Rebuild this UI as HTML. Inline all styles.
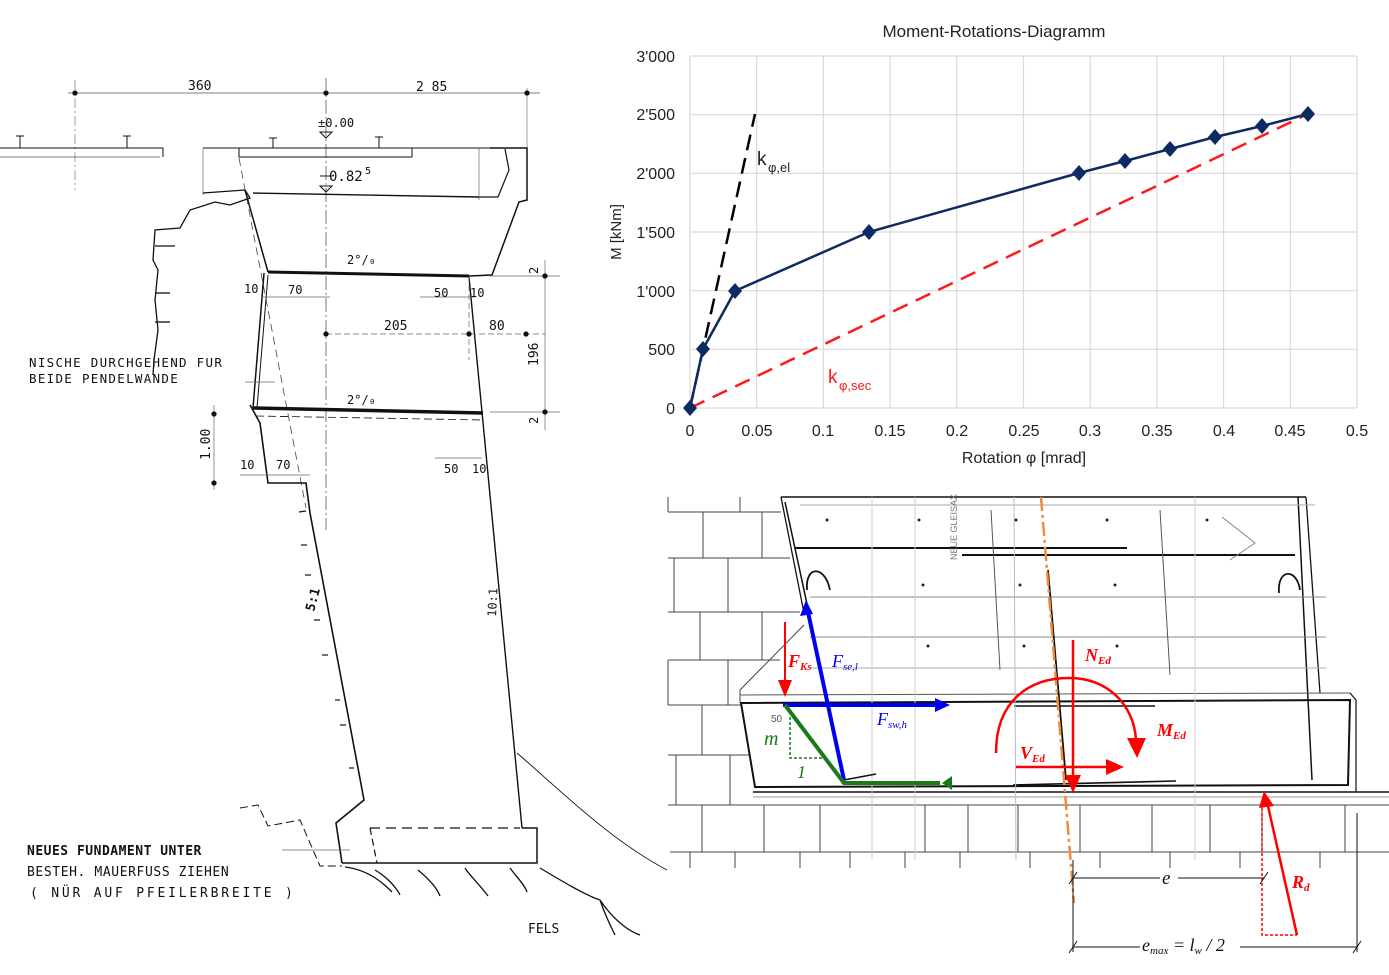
<!DOCTYPE html>
<html><head><meta charset="utf-8"><style>
html,body{margin:0;padding:0;background:#fff;}
svg{display:block;}
.cad{font-family:"DejaVu Sans Mono","Liberation Mono",monospace;fill:#111;}
.ch{font-family:"Liberation Sans",Arial,sans-serif;fill:#222;}
.it{font-family:"Liberation Serif",serif;font-style:italic;}
</style></head><body>
<svg width="1389" height="975" viewBox="0 0 1389 975" xmlns="http://www.w3.org/2000/svg">
<!-- ============ LEFT CAD DRAWING ============ -->
<g stroke="#111" fill="none" stroke-width="1.3">
 <!-- dimension line -->
 <line x1="68" y1="93" x2="540" y2="93" stroke-width="0.8" stroke="#555"/>
 <line x1="75" y1="80" x2="75" y2="190" stroke-width="0.7" stroke="#777" stroke-dasharray="10,3,2,3"/>
 <line x1="527" y1="88" x2="527" y2="150" stroke-width="0.7" stroke="#777"/>
 <circle cx="75" cy="93" r="2" fill="#111"/><circle cx="326" cy="93" r="2" fill="#111"/><circle cx="527" cy="93" r="2" fill="#111"/>
 <!-- centre axis -->
 <line x1="326" y1="78" x2="326" y2="530" stroke-width="0.8" stroke="#555" stroke-dasharray="14,3,2,3"/>
 <!-- ground lines -->
 <polyline points="0,148 163,148 163,157" stroke-width="1"/>
 <line x1="0" y1="157" x2="160" y2="157" stroke-width="0.7" stroke="#555"/>
 <polyline points="203,148 239,148 239,157 412,157 412,148 527,148" stroke-width="1"/>
 <line x1="239" y1="148" x2="490" y2="148" stroke-width="1"/>
 <g stroke-width="1"><line x1="20" y1="136" x2="20" y2="148"/><line x1="16" y1="136" x2="24" y2="136"/>
 <line x1="127" y1="136" x2="127" y2="148"/><line x1="123" y1="136" x2="131" y2="136"/>
 <line x1="273" y1="138" x2="273" y2="148"/><line x1="269" y1="138" x2="277" y2="138"/>
 <line x1="379" y1="137" x2="379" y2="148"/><line x1="375" y1="137" x2="383" y2="137"/></g>
 <!-- level marks -->
 <polygon points="320,132 332,132 326,138" stroke-width="1"/>
 <polygon points="320,186 332,186 326,192" stroke-width="1"/>
 <line x1="320" y1="176" x2="332" y2="176" stroke-width="1"/>
 <!-- right outline -->
 <polyline points="490,148 527,148 527,200 519,202 492,275 469,276" stroke-width="1.5"/>
 <polyline points="505,149 509,170 498,197 479,197" stroke-width="1.2"/>
 <line x1="479" y1="148" x2="479" y2="200" stroke-width="0.7" stroke="#666"/>
 <line x1="203" y1="148" x2="203" y2="195" stroke-width="0.7" stroke="#666"/>
 <!-- slab top -->
 <line x1="253" y1="193" x2="479" y2="197" stroke-width="1.4"/>
 <!-- left wall upper -->
 <line x1="245" y1="190" x2="268" y2="272" stroke-width="1.5"/>
 <line x1="239" y1="158" x2="306" y2="508" stroke-width="0.8" stroke="#444" stroke-dasharray="8,5"/>
 <!-- upper slab -->
 <line x1="268" y1="272" x2="469" y2="276" stroke-width="3"/>
 <!-- middle walls -->
 <line x1="264" y1="273" x2="253" y2="408" stroke-width="1.5"/>
 <line x1="268" y1="275" x2="257" y2="408" stroke-width="1"/>
 <line x1="469" y1="277" x2="522" y2="828" stroke-width="1.4"/>
 <line x1="469" y1="276" x2="469" y2="360" stroke-width="0.7" stroke="#666" stroke-dasharray="6,3"/>
 <!-- lower slab -->
 <line x1="253" y1="408" x2="483" y2="413" stroke-width="3.5"/>
 <line x1="256" y1="416" x2="483" y2="420" stroke-width="0.8" stroke-dasharray="8,4"/>
 <!-- left lower profile -->
 <polyline points="250,405 260,423 268,483 306,483 310,513 364,800 336,823 342,863" stroke-width="1.6"/>
 <!-- footing -->
 <polyline points="522,828 537,828 537,863 342,863" stroke-width="1.5"/>
 <polyline points="370,828 520,828" stroke-width="1.2" stroke-dasharray="10,6"/>
 <line x1="370" y1="828" x2="377" y2="863" stroke-width="1.2" stroke-dasharray="7,4"/>
 <polyline points="240,808 258,805 268,826 300,820 320,866 342,866" stroke-width="1" stroke-dasharray="8,4"/>
 <!-- masonry left -->
 <polyline points="203,193 245,190 250,198 230,205 215,202 190,210 180,228 155,230 153,260 158,270 155,300 158,330 154,360 153,375" stroke-width="1.3"/>
 <line x1="155" y1="246" x2="175" y2="246"/><line x1="155" y1="293" x2="170" y2="293"/><line x1="155" y1="322" x2="170" y2="322"/>
 <!-- 5:1 ticks -->
 <g stroke-width="1.2"><line x1="299" y1="512" x2="306" y2="511"/><line x1="301" y1="545" x2="307" y2="545"/><line x1="305" y1="575" x2="311" y2="575"/><line x1="314" y1="620" x2="320" y2="620"/><line x1="322" y1="655" x2="328" y2="655"/><line x1="335" y1="700" x2="340" y2="700"/><line x1="340" y1="725" x2="346" y2="725"/><line x1="349" y1="768" x2="354" y2="768"/></g>
 <!-- dims right -->
 <line x1="490" y1="276" x2="560" y2="276" stroke-width="0.7" stroke="#666"/>
 <line x1="490" y1="412" x2="560" y2="412" stroke-width="0.7" stroke="#666"/>
 <line x1="545" y1="260" x2="545" y2="430" stroke-width="0.7" stroke="#666"/>
 <circle cx="545" cy="276" r="2" fill="#111"/><circle cx="545" cy="412" r="2" fill="#111"/>
 <line x1="326" y1="334" x2="545" y2="334" stroke-width="0.7" stroke="#666" stroke-dasharray="6,3"/>
 <circle cx="326" cy="334" r="2" fill="#111"/><circle cx="469" cy="334" r="2" fill="#111"/><circle cx="526" cy="334" r="2" fill="#111"/>
 <line x1="262" y1="297" x2="330" y2="297" stroke-width="0.7" stroke="#666"/>
 <line x1="420" y1="297" x2="475" y2="297" stroke-width="0.7" stroke="#666"/>
 <line x1="240" y1="475" x2="310" y2="475" stroke-width="0.7" stroke="#666"/>
 <line x1="435" y1="458" x2="482" y2="458" stroke-width="0.7" stroke="#666"/>
 <line x1="214" y1="405" x2="214" y2="490" stroke-width="0.7" stroke="#666"/>
 <circle cx="214" cy="414" r="2" fill="#111"/><circle cx="214" cy="483" r="2" fill="#111"/>
 <line x1="245" y1="382" x2="275" y2="382" stroke-width="0.7" stroke="#666"/>
 <line x1="282" y1="850" x2="350" y2="850" stroke-width="0.7" stroke="#666"/>
 <!-- rock -->
 <path d="M517,753 C560,790 610,840 667,870" stroke-width="0.9"/>
 <path d="M345,867 C370,870 385,885 392,892 M375,870 C385,876 395,885 400,895 M418,870 C430,880 437,888 440,896 M465,868 C470,876 480,885 488,896 M510,868 C515,875 525,885 527,892 M540,868 C560,880 585,895 600,900 C610,915 625,930 640,935 M600,900 C605,915 610,925 615,935" stroke-width="1.3"/>
</g>
<g class="cad" font-size="13">
 <text x="188" y="90">360</text><text x="416" y="91">2 85</text>
 <text x="318" y="127" font-size="12">±0.00</text>
 <text x="329" y="181" font-size="14">0.82</text><text x="365" y="174" font-size="10">5</text>
 <text x="347" y="264" font-size="12">2°/₀</text><text x="347" y="404" font-size="12">2°/₀</text>
 <text x="244" y="293" font-size="12">10</text><text x="288" y="294" font-size="12">70</text>
 <text x="434" y="297" font-size="12">50</text><text x="470" y="297" font-size="12">10</text>
 <text x="384" y="330" font-size="13">205</text><text x="489" y="330" font-size="13">80</text>
 <text x="240" y="469" font-size="12">10</text><text x="276" y="469" font-size="12">70</text>
 <text x="444" y="473" font-size="12">50</text><text x="472" y="473" font-size="12">10</text>
 <text transform="translate(538,366) rotate(-90)" font-size="13">196</text>
 <text transform="translate(538,274) rotate(-90)" font-size="12">2</text>
 <text transform="translate(538,424) rotate(-90)" font-size="12">2</text>
 <text transform="translate(210,460) rotate(-90)" font-size="13">1.00</text>
 <text transform="translate(314,612) rotate(-75)" font-size="13" font-weight="bold">5:1</text>
 <text transform="translate(496,617) rotate(-87)" font-size="12">10:1</text>
 <text x="29" y="367" font-size="12.5" letter-spacing="1.3">NISCHE DURCHGEHEND FUR</text>
 <text x="29" y="383" font-size="12.5" letter-spacing="1.3">BEIDE PENDELWANDE</text>
 <text x="27" y="855" font-size="13" font-weight="bold" letter-spacing="0.5">NEUES FUNDAMENT UNTER</text>
 <text x="27" y="876" font-size="13" letter-spacing="0.6">BESTEH. MAUERFUSS ZIEHEN</text>
 <text x="30" y="897" font-size="13" letter-spacing="2.8">( NÜR AUF PFEILERBREITE )</text>
 <text x="528" y="933" font-size="13">FELS</text>
</g>

<!-- ============ CHART ============ -->
<g stroke="#d9d9d9" stroke-width="1.2">
 <line x1="690" y1="56" x2="1357" y2="56"/><line x1="690" y1="114.7" x2="1357" y2="114.7"/>
 <line x1="690" y1="173.3" x2="1357" y2="173.3"/><line x1="690" y1="232" x2="1357" y2="232"/>
 <line x1="690" y1="290.7" x2="1357" y2="290.7"/><line x1="690" y1="349.3" x2="1357" y2="349.3"/>
 <line x1="690" y1="408" x2="1357" y2="408"/>
 <line x1="690" y1="56" x2="690" y2="408"/><line x1="756.7" y1="56" x2="756.7" y2="408"/>
 <line x1="823.4" y1="56" x2="823.4" y2="408"/><line x1="890.1" y1="56" x2="890.1" y2="408"/>
 <line x1="956.8" y1="56" x2="956.8" y2="408"/><line x1="1023.5" y1="56" x2="1023.5" y2="408"/>
 <line x1="1090.2" y1="56" x2="1090.2" y2="408"/><line x1="1156.9" y1="56" x2="1156.9" y2="408"/>
 <line x1="1223.6" y1="56" x2="1223.6" y2="408"/><line x1="1290.3" y1="56" x2="1290.3" y2="408"/>
 <line x1="1357" y1="56" x2="1357" y2="408"/>
</g>
<line x1="690" y1="408" x2="755" y2="114" stroke="#000" stroke-width="2.5" stroke-dasharray="16,8"/>
<line x1="690" y1="408" x2="1308" y2="114" stroke="#ff1a1a" stroke-width="2.5" stroke-dasharray="16,9"/>
<polyline points="690,408 703,349 735,291 869,232 1079,173 1125,161 1170,149 1215,137 1262,126 1308,114" fill="none" stroke="#0d2a63" stroke-width="2.5"/>
<g fill="#0d2a63">
 <polygon points="690,400 697,408 690,416 683,408"/><polygon points="703,341 710,349 703,357 696,349"/>
 <polygon points="735,283 742,291 735,299 728,291"/><polygon points="869,224 876,232 869,240 862,232"/>
 <polygon points="1079,165 1086,173 1079,181 1072,173"/><polygon points="1125,153 1132,161 1125,169 1118,161"/>
 <polygon points="1170,141 1177,149 1170,157 1163,149"/><polygon points="1215,129 1222,137 1215,145 1208,137"/>
 <polygon points="1262,118 1269,126 1262,134 1255,126"/><polygon points="1308,106 1315,114 1308,122 1301,114"/>
</g>
<g class="ch" font-size="16">
 <text x="994" y="37" text-anchor="middle" font-size="17">Moment-Rotations-Diagramm</text>
 <g text-anchor="end"><text x="675" y="62">3'000</text><text x="675" y="120">2'500</text><text x="675" y="179">2'000</text>
 <text x="675" y="238">1'500</text><text x="675" y="297">1'000</text><text x="675" y="355">500</text><text x="675" y="414">0</text></g>
 <g text-anchor="middle"><text x="690" y="436">0</text><text x="757" y="436">0.05</text><text x="823" y="436">0.1</text>
 <text x="890" y="436">0.15</text><text x="957" y="436">0.2</text><text x="1024" y="436">0.25</text><text x="1090" y="436">0.3</text>
 <text x="1157" y="436">0.35</text><text x="1224" y="436">0.4</text><text x="1290" y="436">0.45</text><text x="1357" y="436">0.5</text></g>
 <text x="1024" y="463" text-anchor="middle">Rotation φ [mrad]</text>
 <text transform="translate(621,232) rotate(-90)" text-anchor="middle" font-size="15">M [kNm]</text>
 <text x="757" y="165" font-size="19">k</text><text x="768" y="172" font-size="13">φ,el</text>
 <text x="828" y="383" font-size="19" fill="#ff1a1a">k</text><text x="839" y="390" font-size="13" fill="#ff1a1a">φ,sec</text>
</g>

<!-- ============ BOTTOM RIGHT DRAWING ============ -->
<g stroke="#444" fill="none" stroke-width="1">
 <!-- left masonry rows -->
 <polyline points="668,512 781,512"/><polyline points="668,558 790,558"/><polyline points="668,612 800,612"/>
 <polyline points="668,660 780,660"/><polyline points="668,705 742,705"/><polyline points="668,755 750,755"/>
 <polyline points="668,805 755,805"/><polyline points="670,852 1389,852"/>
 <line x1="668" y1="497" x2="668" y2="512"/><line x1="740" y1="497" x2="740" y2="512"/>
 <line x1="703" y1="512" x2="703" y2="558"/><line x1="762" y1="512" x2="762" y2="558"/>
 <line x1="674" y1="558" x2="674" y2="612"/><line x1="728" y1="558" x2="728" y2="612"/>
 <line x1="700" y1="612" x2="700" y2="660"/><line x1="762" y1="612" x2="762" y2="660"/>
 <line x1="668" y1="660" x2="668" y2="705"/><line x1="728" y1="660" x2="728" y2="705"/>
 <line x1="702" y1="705" x2="702" y2="755"/>
 <line x1="676" y1="755" x2="676" y2="805"/><line x1="730" y1="755" x2="730" y2="805"/>
 <!-- lower masonry -->
 <line x1="700" y1="805" x2="1389" y2="805"/>
 <line x1="702" y1="805" x2="702" y2="852"/><line x1="764" y1="805" x2="764" y2="852"/><line x1="820" y1="805" x2="820" y2="852"/>
 <line x1="872" y1="805" x2="872" y2="852"/><line x1="925" y1="805" x2="925" y2="852"/><line x1="968" y1="805" x2="968" y2="852"/>
 <line x1="1018" y1="805" x2="1018" y2="852"/><line x1="1080" y1="805" x2="1080" y2="852"/><line x1="1152" y1="805" x2="1152" y2="852"/>
 <line x1="1210" y1="805" x2="1210" y2="852"/><line x1="1262" y1="805" x2="1262" y2="852"/><line x1="1345" y1="805" x2="1345" y2="852"/>
 <line x1="690" y1="852" x2="690" y2="868"/><line x1="735" y1="852" x2="735" y2="868"/><line x1="800" y1="852" x2="800" y2="868"/>
 <line x1="850" y1="852" x2="850" y2="868"/><line x1="905" y1="852" x2="905" y2="868"/><line x1="960" y1="852" x2="960" y2="868"/>
 <line x1="1030" y1="852" x2="1030" y2="868"/><line x1="1100" y1="852" x2="1100" y2="868"/><line x1="1170" y1="852" x2="1170" y2="868"/>
 <line x1="1240" y1="852" x2="1240" y2="868"/><line x1="1320" y1="852" x2="1320" y2="868"/>
 <!-- ground line -->
 <line x1="753" y1="792" x2="1389" y2="792" stroke="#111" stroke-width="1.5"/>
 <line x1="753" y1="797" x2="1389" y2="797" stroke="#999"/>
 <!-- wall outline -->
 <line x1="781" y1="497" x2="1306" y2="497" stroke="#111" stroke-width="1.4"/>
 <line x1="781" y1="497" x2="804" y2="613" stroke="#111" stroke-width="1.3"/>
 <line x1="785" y1="502" x2="845" y2="780" stroke="#111" stroke-width="1.5"/>
 <line x1="1306" y1="497" x2="1320" y2="693" stroke="#111" stroke-width="1.3"/>
 <line x1="1298" y1="497" x2="1312" y2="780" stroke="#111" stroke-width="1.5"/>
 <polyline points="804,625 740,690 740,703" stroke="#444"/>
 <line x1="740" y1="695" x2="1350" y2="693" stroke="#555"/>
 <!-- footing box -->
 <polygon points="741,703 1350,700 1348,785 755,787" stroke="#111" stroke-width="2"/>
 <polyline points="1350,693 1356,700 1356,792" stroke="#111" stroke-width="1.2"/>
 <!-- interior rebar lines -->
 <line x1="795" y1="548" x2="1127" y2="548" stroke="#111" stroke-width="2"/>
 <line x1="962" y1="555" x2="1295" y2="555" stroke="#111" stroke-width="2"/>
 <line x1="810" y1="597" x2="1326" y2="597" stroke="#888"/>
 <line x1="810" y1="637" x2="1326" y2="637" stroke="#888"/>
 <line x1="810" y1="668" x2="1326" y2="668" stroke="#aaa"/>
 <line x1="800" y1="505" x2="1315" y2="505" stroke="#aaa"/>
 <line x1="1048" y1="570" x2="1066" y2="780" stroke="#111" stroke-width="1.8"/>
 <line x1="1014" y1="706" x2="1155" y2="706" stroke="#111" stroke-width="1.6"/>
 <line x1="1013" y1="785" x2="1176" y2="781" stroke="#111" stroke-width="1.6"/>
 <line x1="1014" y1="497" x2="1016" y2="860" stroke="#bbb"/><line x1="872" y1="497" x2="872" y2="860" stroke="#ccc"/>
 <line x1="1195" y1="497" x2="1195" y2="860" stroke="#ccc"/><line x1="915" y1="497" x2="915" y2="860" stroke="#ccc"/>
 <line x1="991" y1="510" x2="1000" y2="670" stroke="#555"/><line x1="1160" y1="510" x2="1170" y2="675" stroke="#555"/>
 <path d="M807,590 C805,565 825,565 830,590" stroke="#111" stroke-width="1.8"/>
 <path d="M1279,593 C1277,568 1297,568 1300,590" stroke="#111" stroke-width="1.8"/>
 <polyline points="1222,517 1255,543 1230,560" stroke="#888"/>
 <line x1="844" y1="780" x2="876" y2="774" stroke="#111" stroke-width="1.5"/>
</g>
<g fill="#222">
 <circle cx="827" cy="520" r="1.5"/><circle cx="919" cy="520" r="1.5"/><circle cx="1016" cy="520" r="1.5"/><circle cx="1107" cy="520" r="1.5"/><circle cx="1207" cy="520" r="1.5"/>
 <circle cx="923" cy="585" r="1.5"/><circle cx="1020" cy="585" r="1.5"/><circle cx="1115" cy="585" r="1.5"/>
 <circle cx="928" cy="646" r="1.5"/><circle cx="1024" cy="646" r="1.5"/><circle cx="1117" cy="646" r="1.5"/>
</g>
<text transform="translate(957,560) rotate(-90)" font-family="Liberation Sans,sans-serif" font-size="9" fill="#777">NEUE GLEISAX</text>

<!-- colored overlays -->
<defs>
 <marker id="ar" markerWidth="8" markerHeight="8" refX="7" refY="4" orient="auto" markerUnits="userSpaceOnUse"></marker>
</defs>
<line x1="1041" y1="497" x2="1074" y2="903" stroke="#f28a3a" stroke-width="2.5" stroke-dasharray="14,4,3,4"/>
<!-- blue -->
<line x1="844" y1="780" x2="808" y2="612" stroke="#0000ee" stroke-width="4"/>
<polygon points="806,600 800,616 813,614" fill="#0000ee"/>
<line x1="783" y1="705" x2="936" y2="705" stroke="#0000ee" stroke-width="4"/>
<polygon points="950,705 935,698 935,712" fill="#0000ee"/>
<!-- green -->
<polyline points="785,705 844,783 940,783" fill="none" stroke="#1a7a1a" stroke-width="4"/>
<polygon points="940,776 940,790 930,783" fill="#1a7a1a" transform="translate(12,0)"/>
<polyline points="790,717 790,758 823,758" fill="none" stroke="#1a7a1a" stroke-width="1.5" stroke-dasharray="3,2"/>
<!-- red F_Ks -->
<line x1="785" y1="622" x2="785" y2="682" stroke="#ff0000" stroke-width="2"/>
<polygon points="778,680 792,680 785,697" fill="#ff0000"/>
<!-- N_Ed -->
<line x1="1073" y1="640" x2="1073" y2="775" stroke="#ff0000" stroke-width="2.5"/>
<polygon points="1065,775 1081,775 1073,793" fill="#ff0000"/>
<!-- M_Ed arc -->
<path d="M996,753 C996,700 1030,678 1069,678 C1108,678 1134,705 1136,740" fill="none" stroke="#ff0000" stroke-width="2.5"/>
<polygon points="1127,738 1146,738 1137,758" fill="#ff0000"/>
<!-- V_Ed -->
<line x1="1016" y1="767" x2="1108" y2="767" stroke="#ff0000" stroke-width="2.5"/>
<polygon points="1106,759 1106,775 1124,767" fill="#ff0000"/>
<!-- R_d -->
<line x1="1297" y1="935" x2="1268" y2="806" stroke="#ff0000" stroke-width="2.5"/>
<polygon points="1264,791 1259,808 1274,806" fill="#ff0000"/>
<polyline points="1262,808 1262,935 1297,935" fill="none" stroke="#ff0000" stroke-width="1.5" stroke-dasharray="3,2"/>
<!-- dims e -->
<g stroke="#111" stroke-width="1">
 <line x1="1073" y1="860" x2="1073" y2="952"/>
 <line x1="1357" y1="813" x2="1357" y2="952"/>
 <line x1="1073" y1="878" x2="1160" y2="878"/><line x1="1178" y1="878" x2="1264" y2="878"/>
 <line x1="1073" y1="947" x2="1140" y2="947"/><line x1="1240" y1="947" x2="1357" y2="947"/>
 <line x1="1069" y1="884" x2="1077" y2="872"/><line x1="1260" y1="884" x2="1268" y2="872"/>
 <line x1="1069" y1="953" x2="1077" y2="941"/><line x1="1353" y1="953" x2="1361" y2="941"/>
</g>
<g class="it">
 <text x="1162" y="884" font-size="19" fill="#111">e</text>
 <text x="1142" y="951" font-size="18" fill="#111">e<tspan font-size="11" dy="3">max</tspan><tspan dy="-3"> = l</tspan><tspan font-size="11" dy="3">w</tspan><tspan dy="-3"> / 2</tspan></text>
 <text x="788" y="667" font-size="18" font-weight="bold" fill="#ff0000">F<tspan font-size="11" dy="3">Ks</tspan></text>
 <text x="832" y="667" font-size="18" fill="#0000ee">F<tspan font-size="11" dy="3">se,l</tspan></text>
 <text x="877" y="725" font-size="18" fill="#0000ee">F<tspan font-size="11" dy="3">sw,h</tspan></text>
 <text x="1085" y="661" font-size="18" font-weight="bold" fill="#ff0000">N<tspan font-size="11" dy="3">Ed</tspan></text>
 <text x="1157" y="736" font-size="18" font-weight="bold" fill="#ff0000">M<tspan font-size="11" dy="3">Ed</tspan></text>
 <text x="1020" y="759" font-size="18" font-weight="bold" fill="#ff0000">V<tspan font-size="11" dy="3">Ed</tspan></text>
 <text x="1292" y="888" font-size="18" font-weight="bold" fill="#ff0000">R<tspan font-size="11" dy="3">d</tspan></text>
 <text x="764" y="745" font-size="20" fill="#1a7a1a">m</text>
 <text x="797" y="778" font-size="18" fill="#1a7a1a">1</text>
</g>
<text x="771" y="722" font-family="Liberation Sans,sans-serif" font-size="10" fill="#555">50</text>
</svg>
</body></html>
